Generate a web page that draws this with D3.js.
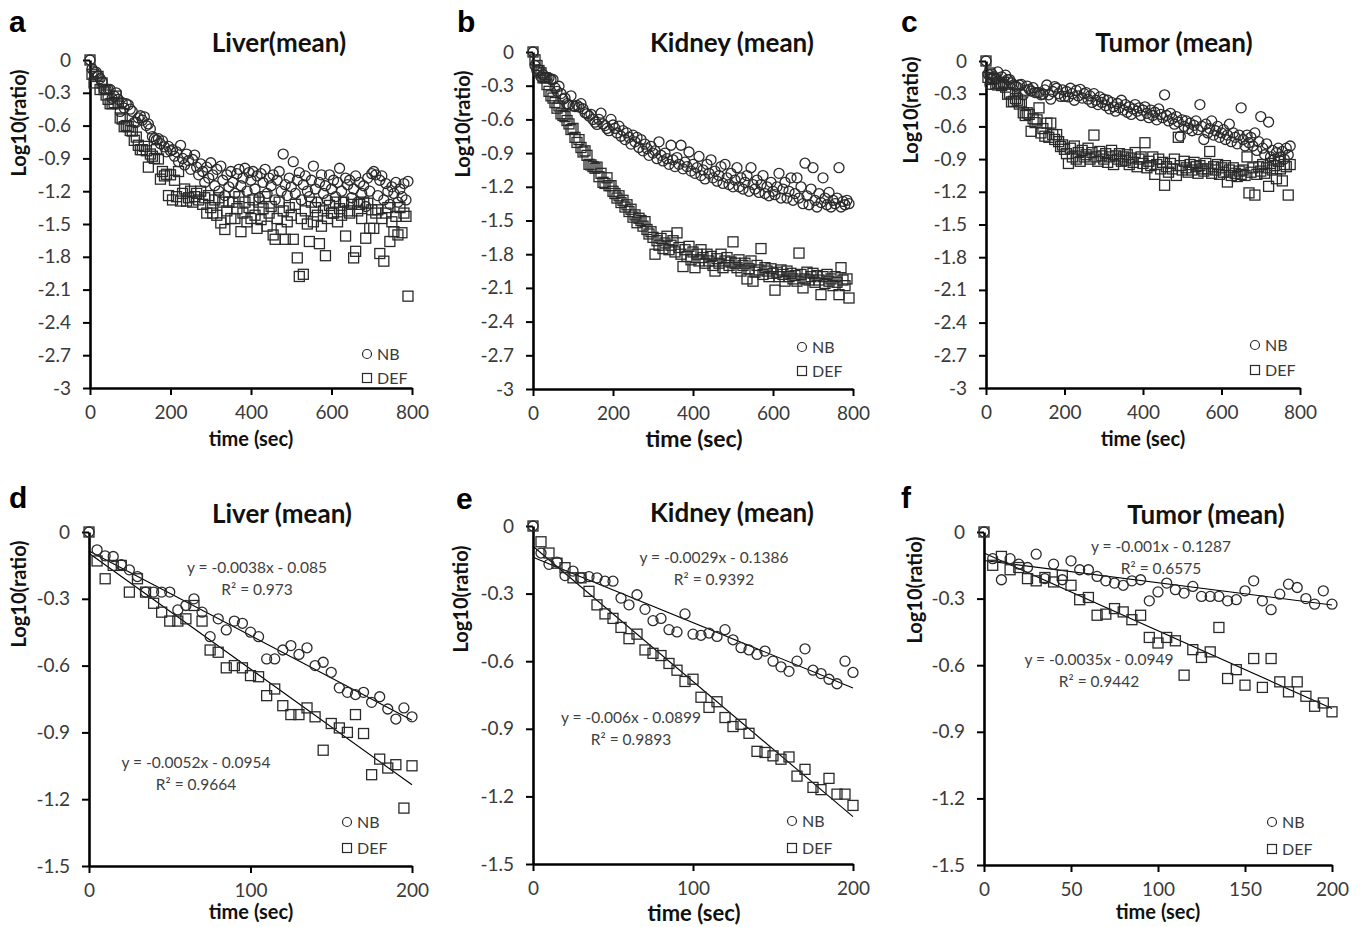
<!DOCTYPE html>
<html>
<head>
<meta charset="utf-8">
<script src="https://cdn.jsdelivr.net/npm/d3@7/dist/d3.min.js"></script>
<style>
  body { margin: 0; background: #fff; }
  text { font-family: Lato, "Open Sans", sans-serif; }
</style>
</head>
<body>
<div id="chart"></div>
<script>
// Data (log10 ratio, sampled every 5 sec)
const sampleStep = 5;

// first 200 sec (panels d-f, and start of a-c)
const liverNB_early = [0,-0.08,-0.107,-0.11,-0.147,-0.17,-0.2,-0.27,-0.27,-0.27,-0.27,-0.35,-0.33,-0.30,-0.36,-0.47,-0.39,-0.44,-0.40,-0.41,-0.45,-0.47,-0.57,-0.57,-0.53,-0.51,-0.55,-0.52,-0.60,-0.585,-0.63,-0.70,-0.72,-0.73,-0.72,-0.765,-0.74,-0.795,-0.84,-0.79,-0.83];
const liverDEF_early = [0,-0.13,-0.21,-0.15,-0.15,-0.27,-0.21,-0.27,-0.32,-0.36,-0.40,-0.40,-0.39,-0.33,-0.40,-0.53,-0.54,-0.61,-0.60,-0.61,-0.645,-0.65,-0.735,-0.705,-0.78,-0.82,-0.82,-0.79,-0.83,-0.98,-0.86,-0.88,-0.90,-0.82,-0.905,-1.09,-1.02,-1.06,-1.045,-1.24,-1.05];
const kidneyNB_early = [0,-0.12,-0.17,-0.16,-0.22,-0.20,-0.23,-0.225,-0.23,-0.245,-0.245,-0.32,-0.35,-0.305,-0.37,-0.42,-0.41,-0.46,-0.47,-0.39,-0.48,-0.485,-0.475,-0.49,-0.46,-0.505,-0.54,-0.55,-0.57,-0.555,-0.60,-0.625,-0.645,-0.60,-0.545,-0.64,-0.655,-0.68,-0.70,-0.60,-0.65];
const kidneyDEF_early = [0,-0.07,-0.12,-0.165,-0.185,-0.23,-0.23,-0.29,-0.35,-0.39,-0.41,-0.45,-0.50,-0.48,-0.55,-0.565,-0.575,-0.61,-0.64,-0.69,-0.68,-0.76,-0.805,-0.78,-0.85,-0.89,-0.88,-0.92,-1.00,-1.005,-1.02,-1.035,-1.025,-1.11,-1.08,-1.16,-1.17,-1.12,-1.19,-1.19,-1.24];
const tumorNB_early = [0,-0.12,-0.215,-0.12,-0.145,-0.16,-0.10,-0.21,-0.145,-0.215,-0.13,-0.17,-0.17,-0.20,-0.22,-0.23,-0.24,-0.22,-0.215,-0.31,-0.27,-0.23,-0.26,-0.275,-0.245,-0.29,-0.29,-0.29,-0.31,-0.305,-0.265,-0.22,-0.31,-0.35,-0.28,-0.235,-0.25,-0.30,-0.325,-0.265,-0.325];
const tumorDEF_early = [0,-0.15,-0.11,-0.17,-0.16,-0.21,-0.22,-0.205,-0.225,-0.195,-0.24,-0.305,-0.295,-0.375,-0.37,-0.345,-0.36,-0.395,-0.375,-0.475,-0.50,-0.475,-0.49,-0.645,-0.53,-0.565,-0.54,-0.43,-0.66,-0.62,-0.69,-0.57,-0.70,-0.57,-0.675,-0.72,-0.675,-0.74,-0.785,-0.77,-0.81];

// 205 sec onward (panels a-c)
const liverNB_late = [
  -0.82,-0.88,-0.84,-0.93,-0.78,-0.90,-0.96,-0.86,-0.92,-1.00,
  -0.91,-0.87,-0.98,-1.05,-0.95,-1.02,-1.12,-0.98,-1.08,-0.94,
  -1.05,-1.15,-1.00,-1.20,-0.97,-1.10,-1.24,-1.05,-1.16,-1.02,
  -1.12,-1.22,-1.04,-1.00,-1.15,-1.08,-0.99,-1.20,-1.03,-1.10,
  -1.02,-1.18,-1.06,-1.26,-1.04,-1.12,-1.00,-1.22,-1.08,-1.15,
  -1.05,-1.28,-1.10,-1.02,-1.20,-0.86,-1.14,-1.24,-1.08,-1.16,
  -0.93,-1.22,-1.10,-1.03,-1.28,-1.14,-1.06,-1.20,-1.25,-1.10,
  -0.97,-1.18,-1.30,-1.12,-1.05,-1.22,-1.15,-1.28,-1.05,-1.18,
  -1.10,-1.25,-1.12,-0.99,-1.20,-1.30,-1.08,-1.14,-1.10,-1.26,
  -1.18,-1.06,-1.30,-1.12,-1.22,-1.15,-1.34,-1.08,-1.20,-1.04,
  -1.02,-1.05,-1.24,-1.10,-1.06,-1.28,-1.13,-1.20,-1.32,-1.16,
  -1.22,-1.12,-1.30,-1.18,-1.25,-1.13,-1.28,-1.11];
const liverDEF_late = [
  -1.28,-1.10,-1.25,-1.02,-1.29,-1.22,-1.18,-1.29,-1.26,-1.20,
  -1.30,-1.25,-1.22,-1.28,-1.20,-1.32,-1.26,-1.40,-1.24,-1.35,
  -1.40,-1.28,-1.42,-1.26,-1.49,-1.30,-1.55,-1.38,-1.30,-1.45,
  -1.30,-1.45,-1.36,-1.25,-1.57,-1.40,-1.30,-1.48,-1.35,-1.45,
  -1.28,-1.42,-1.54,-1.30,-1.46,-1.36,-1.25,-1.52,-1.40,-1.34,
  -1.60,-1.64,-1.45,-1.30,-1.55,-1.38,-1.64,-1.48,-1.35,-1.42,
  -1.64,-1.32,-1.81,-1.98,-1.45,-1.96,-1.38,-1.50,-1.66,-1.30,
  -1.48,-1.35,-1.42,-1.68,-1.52,-1.38,-1.79,-1.45,-1.33,-1.40,
  -1.40,-1.30,-1.48,-1.36,-1.42,-1.30,-1.61,-1.38,-1.40,-1.32,
  -1.81,-1.75,-1.38,-1.32,-1.45,-1.30,-1.63,-1.31,-1.54,-1.37,
  -1.54,-1.40,-1.37,-1.77,-1.45,-1.84,-1.40,-1.35,-1.66,-1.48,
  -1.57,-1.43,-1.60,-1.35,-1.58,-1.40,-1.43,-2.16];
const kidneyNB_late = [
  -0.68,-0.72,-0.66,-0.75,-0.70,-0.78,-0.72,-0.76,-0.82,-0.74,
  -0.80,-0.76,-0.85,-0.78,-0.88,-0.82,-0.86,-0.92,-0.84,-0.90,
  -0.88,-0.95,-0.80,-0.92,-0.97,-0.90,-0.95,-1.00,-0.83,-0.96,
  -1.02,-0.94,-1.00,-0.83,-1.04,-0.98,-1.02,-0.89,-1.06,-1.00,
  -1.08,-1.03,-0.93,-1.10,-1.05,-1.13,-1.00,-1.08,-0.96,-1.12,
  -1.06,-1.15,-1.10,-1.02,-1.17,-1.00,-1.12,-1.18,-1.08,-1.20,
  -1.14,-1.03,-1.20,-1.12,-1.22,-1.16,-1.10,-1.24,-1.03,-1.18,
  -1.22,-1.14,-1.25,-1.18,-1.10,-1.26,-1.20,-1.28,-1.16,-1.24,
  -1.27,-1.20,-1.08,-1.30,-1.22,-1.16,-1.30,-1.24,-1.12,-1.32,
  -1.26,-1.12,-1.30,-1.20,-1.35,-0.99,-1.28,-1.36,-1.22,-1.03,
  -1.32,-1.38,-1.26,-1.34,-1.12,-1.30,-1.36,-1.25,-1.38,-1.32,
  -1.35,-1.30,-1.03,-1.38,-1.33,-1.36,-1.32,-1.35];
const kidneyDEF_late = [
  -1.26,-1.30,-1.28,-1.34,-1.32,-1.38,-1.36,-1.42,-1.40,-1.47,
  -1.45,-1.52,-1.48,-1.50,-1.55,-1.51,-1.58,-1.62,-1.60,-1.65,
  -1.80,-1.68,-1.72,-1.66,-1.75,-1.70,-1.64,-1.76,-1.72,-1.68,
  -1.78,-1.61,-1.74,-1.80,-1.91,-1.76,-1.82,-1.73,-1.85,-1.78,
  -1.92,-1.80,-1.86,-1.76,-1.83,-1.88,-1.80,-1.86,-1.82,-1.90,
  -1.95,-1.84,-1.88,-1.80,-1.92,-1.86,-1.83,-1.90,-1.87,-1.69,
  -1.88,-1.92,-1.85,-1.95,-1.90,-1.88,-2.02,-1.93,-1.86,-2.04,
  -1.96,-1.90,-1.94,-1.75,-1.98,-1.92,-1.95,-2.00,-1.93,-1.97,
  -2.12,-1.96,-2.00,-1.94,-1.98,-2.04,-1.95,-2.00,-1.97,-2.02,
  -1.99,-2.04,-1.79,-1.98,-2.10,-2.02,-1.96,-2.03,-2.00,-1.97,
  -2.05,-1.99,-2.03,-2.16,-2.00,-2.06,-1.98,-2.04,-2.02,-2.08,
  -2.00,-2.05,-2.16,-1.92,-2.03,-2.08,-2.02,-2.19];
const tumorNB_late = [
  -0.28,-0.33,-0.25,-0.30,-0.36,-0.27,-0.32,-0.26,-0.34,-0.30,
  -0.29,-0.35,-0.32,-0.38,-0.30,-0.36,-0.40,-0.33,-0.38,-0.35,
  -0.41,-0.36,-0.44,-0.38,-0.42,-0.46,-0.39,-0.43,-0.36,-0.45,
  -0.40,-0.47,-0.42,-0.49,-0.44,-0.40,-0.46,-0.43,-0.50,-0.45,
  -0.42,-0.48,-0.52,-0.45,-0.50,-0.47,-0.54,-0.44,-0.49,-0.52,
  -0.31,-0.50,-0.55,-0.48,-0.53,-0.58,-0.51,-0.56,-0.69,-0.54,
  -0.60,-0.55,-0.62,-0.57,-0.64,-0.59,-0.55,-0.63,-0.40,-0.60,
  -0.72,-0.58,-0.66,-0.62,-0.55,-0.68,-0.64,-0.60,-0.70,-0.66,
  -0.63,-0.72,-0.68,-0.58,-0.74,-0.66,-0.70,-0.76,-0.68,-0.43,
  -0.72,-0.78,-0.68,-0.75,-0.70,-0.78,-0.66,-0.82,-0.74,-0.51,
  -0.80,-0.86,-0.76,-0.56,-0.88,-0.82,-0.90,-0.84,-0.80,-0.88,
  -0.83,-0.90,-0.80,-0.86,-0.78];
const tumorDEF_late = [
  -0.85,-0.94,-0.80,-0.88,-0.78,-0.90,-0.84,-0.92,-0.82,-0.88,
  -0.86,-0.80,-0.90,-0.84,-0.68,-0.88,-0.92,-0.83,-0.87,-0.90,
  -0.85,-0.93,-0.88,-0.82,-0.95,-0.87,-0.90,-0.85,-0.92,-0.88,
  -0.91,-0.86,-0.95,-0.89,-0.93,-0.84,-0.97,-0.90,-0.88,-0.94,
  -0.75,-0.98,-0.92,-0.96,-0.88,-1.04,-0.95,-0.90,-0.99,-0.93,
  -1.14,-0.97,-1.02,-0.94,-0.99,-0.90,-1.05,-0.70,-0.96,-1.00,
  -0.92,-0.98,-1.02,-0.95,-1.00,-0.93,-0.97,-1.03,-0.96,-0.99,
  -1.01,-0.94,-0.99,-0.83,-1.03,-0.97,-1.00,-0.95,-1.04,-0.98,
  -1.02,-0.96,-1.11,-1.00,-1.05,-0.98,-1.03,-1.06,-1.01,-1.04,
  -1.00,-1.05,-0.88,-1.21,-1.02,-0.98,-1.23,-1.04,-0.97,-1.01,
  -0.95,-1.03,-0.98,-1.15,-0.94,-1.00,-0.96,-1.08,-0.92,-0.99,
  -1.10,-0.95,-0.97,-1.23,-0.95];

// linear fits over the first 200 sec
const fitSlope     = { liverNB: -0.0038, liverDEF: -0.0052, kidneyNB: -0.0029, kidneyDEF: -0.006, tumorNB: -0.001, tumorDEF: -0.0035 };
const fitIntercept = { liverNB: -0.085,  liverDEF: -0.0954, kidneyNB: -0.1386, kidneyDEF: -0.0899, tumorNB: -0.1287, tumorDEF: -0.0949 };
const fitR2        = { liverNB: 0.973,   liverDEF: 0.9664,  kidneyNB: 0.9392,  kidneyDEF: 0.9893,  tumorNB: 0.6575,  tumorDEF: 0.9442 };

// ticks
const longYTicks = [0,-0.3,-0.6,-0.9,-1.2,-1.5,-1.8,-2.1,-2.4,-2.7,-3];
const shortYTicks = [0,-0.3,-0.6,-0.9,-1.2,-1.5];
const longXTicks = [0,200,400,600,800];
const shortXTicks = [0,100,200];
const tumorXTicks = [0,50,100,150,200];

const seriesNames = ["NB", "DEF"];

// Panel layout
const panels = [
  { letter: "a", title: "Liver(mean)", nb: liverNB_early.concat(liverNB_late), def: liverDEF_early.concat(liverDEF_late),
    xMax: 800, xTicks: longXTicks, yMin: -3, yTicks: longYTicks,
    x0: 90, x1: 412, y0: 60, y1: 388, letterAt: [9, 32], titleAt: [279, 52], ylabAt: [26, 123], xlabAt: [251, 446], xlabSize: 20, legAt: [367, 354, 378] },
  { letter: "b", title: "Kidney (mean)", nb: kidneyNB_early.concat(kidneyNB_late), def: kidneyDEF_early.concat(kidneyDEF_late),
    xMax: 800, xTicks: longXTicks, yMin: -3, yTicks: longYTicks,
    x0: 533, x1: 853, y0: 52, y1: 389, letterAt: [457, 32], titleAt: [732, 52], ylabAt: [470, 124], xlabAt: [694, 447], xlabSize: 23, legAt: [802, 347, 371] },
  { letter: "c", title: "Tumor (mean)", nb: tumorNB_early.concat(tumorNB_late), def: tumorDEF_early.concat(tumorDEF_late),
    xMax: 800, xTicks: longXTicks, yMin: -3, yTicks: longYTicks,
    x0: 986, x1: 1300, y0: 61, y1: 388, letterAt: [901, 32], titleAt: [1174, 52], ylabAt: [918, 110], xlabAt: [1143, 446], xlabSize: 20, legAt: [1255, 345, 370] },
  { letter: "d", title: "Liver (mean)", nb: liverNB_early, def: liverDEF_early, fit: ["liverNB", "liverDEF"],
    eqAt: [[257, 573], [196, 768]],
    xMax: 200, xTicks: shortXTicks, yMin: -1.5, yTicks: shortYTicks,
    x0: 89, x1: 412, y0: 532, y1: 866, letterAt: [9, 508], titleAt: [282, 523], ylabAt: [26, 594], xlabAt: [251, 919], xlabSize: 20, legAt: [347, 822, 848] },
  { letter: "e", title: "Kidney (mean)", nb: kidneyNB_early, def: kidneyDEF_early, fit: ["kidneyNB", "kidneyDEF"],
    eqAt: [[714, 563], [631, 723]],
    xMax: 200, xTicks: shortXTicks, yMin: -1.5, yTicks: shortYTicks,
    x0: 533, x1: 853, y0: 526, y1: 864, letterAt: [456, 509], titleAt: [732, 522], ylabAt: [468, 599], xlabAt: [694, 921], xlabSize: 22, legAt: [792, 821, 848] },
  { letter: "f", title: "Tumor (mean)", nb: tumorNB_early, def: tumorDEF_early, fit: ["tumorNB", "tumorDEF"],
    eqAt: [[1161, 552], [1099, 665]],
    xMax: 200, xTicks: tumorXTicks, yMin: -1.5, yTicks: shortYTicks,
    x0: 984, x1: 1332, y0: 532, y1: 865, letterAt: [901, 508], titleAt: [1206, 524], ylabAt: [922, 590], xlabAt: [1158, 919], xlabSize: 20, legAt: [1272, 822, 849] }
];

const ink = "#2a2a2a";
const tickInk = "#3a3a3a";

const svg = d3.select("#chart").append("svg")
  .attr("width", 1363)
  .attr("height", 927)
  .style("background", "#fff");

function drawPanel(p) {
  const g = svg.append("g");
  const x = d3.scaleLinear().domain([0, p.xMax]).range([p.x0, p.x1]);
  const y = d3.scaleLinear().domain([0, p.yMin]).range([p.y0, p.y1]);

  // y axis
  const gy = g.append("g")
    .attr("transform", `translate(${p.x0},0)`)
    .call(d3.axisLeft(y).tickValues(p.yTicks).tickSize(7).tickSizeOuter(0).tickPadding(12).tickFormat(d => String(d)));
  // x axis
  const gx = g.append("g")
    .attr("transform", `translate(0,${p.y1})`)
    .call(d3.axisBottom(x).tickValues(p.xTicks).tickSize(7).tickSizeOuter(0).tickPadding(11).tickFormat(d => String(d)));

  [gx, gy].forEach(ax => {
    ax.select(".domain").attr("stroke", "#000").attr("stroke-width", 2.6);
    ax.selectAll(".tick line").attr("stroke", "#000").attr("stroke-width", 2);
    ax.selectAll(".tick text")
      .attr("fill", tickInk)
      .style("font-family", "Lato, 'Open Sans', sans-serif")
      .style("font-size", "19px");
  });

  // trend lines
  if (p.fit) {
    p.fit.forEach((key, i) => {
      const ends = [0, 200].map(t => [x(t), y(fitSlope[key] * t + fitIntercept[key])]);
      g.append("path")
        .attr("d", d3.line()(ends))
        .attr("stroke", "#000")
        .attr("stroke-width", 1.1)
        .attr("fill", "none");
      const eq = g.append("text")
        .attr("text-anchor", "middle")
        .attr("fill", "#404040")
        .style("font-size", "15.5px");
      eq.append("tspan")
        .attr("x", p.eqAt[i][0]).attr("y", p.eqAt[i][1])
        .text(`y = ${fitSlope[key]}x - ${Math.abs(fitIntercept[key])}`);
      eq.append("tspan")
        .attr("x", p.eqAt[i][0]).attr("y", p.eqAt[i][1] + 22)
        .text(`R\u00b2 = ${fitR2[key]}`);
    });
  }

  // NB circles
  g.append("g").selectAll("circle")
    .data(p.nb)
    .join("circle")
    .attr("cx", (d, i) => x(i * sampleStep))
    .attr("cy", d => y(d))
    .attr("r", 5)
    .attr("fill", "none")
    .attr("stroke", ink)
    .attr("stroke-width", 1.3);

  // DEF squares
  g.append("g").selectAll("rect")
    .data(p.def)
    .join("rect")
    .attr("x", (d, i) => x(i * sampleStep) - 5)
    .attr("y", d => y(d) - 5)
    .attr("width", 10)
    .attr("height", 10)
    .attr("fill", "none")
    .attr("stroke", ink)
    .attr("stroke-width", 1.3);

  // legend
  const [lx, ly1, ly2] = p.legAt;
  g.append("circle").attr("cx", lx).attr("cy", ly1).attr("r", 4.5)
    .attr("fill", "none").attr("stroke", ink).attr("stroke-width", 1.2);
  g.append("rect").attr("x", lx - 4.5).attr("y", ly2 - 4.5).attr("width", 9).attr("height", 9)
    .attr("fill", "none").attr("stroke", ink).attr("stroke-width", 1.2);
  [ly1, ly2].forEach((ly, i) => {
    g.append("text").attr("x", lx + 10).attr("y", ly + 6)
      .attr("fill", tickInk).style("font-size", "16px").text(seriesNames[i]);
  });

  // titles and labels
  g.append("text").attr("x", p.letterAt[0]).attr("y", p.letterAt[1])
    .style("font-family", "'Liberation Sans', Arial, sans-serif")
    .style("font-size", "30px").style("font-weight", "bold").text(p.letter);
  g.append("text").attr("x", p.titleAt[0]).attr("y", p.titleAt[1])
    .attr("text-anchor", "middle")
    .style("font-size", "26px").style("font-weight", "bold").attr("fill", "#111").text(p.title);
  g.append("text")
    .attr("transform", `translate(${p.ylabAt[0]},${p.ylabAt[1]}) rotate(-90)`)
    .attr("text-anchor", "middle")
    .style("font-size", "20px").style("font-weight", "bold").attr("fill", "#111").text("Log10(ratio)");
  g.append("text").attr("x", p.xlabAt[0]).attr("y", p.xlabAt[1])
    .attr("text-anchor", "middle")
    .style("font-size", p.xlabSize + "px").style("font-weight", "bold").attr("fill", "#111").text("time (sec)");
}

panels.forEach(drawPanel);
</script>
</body>
</html>
